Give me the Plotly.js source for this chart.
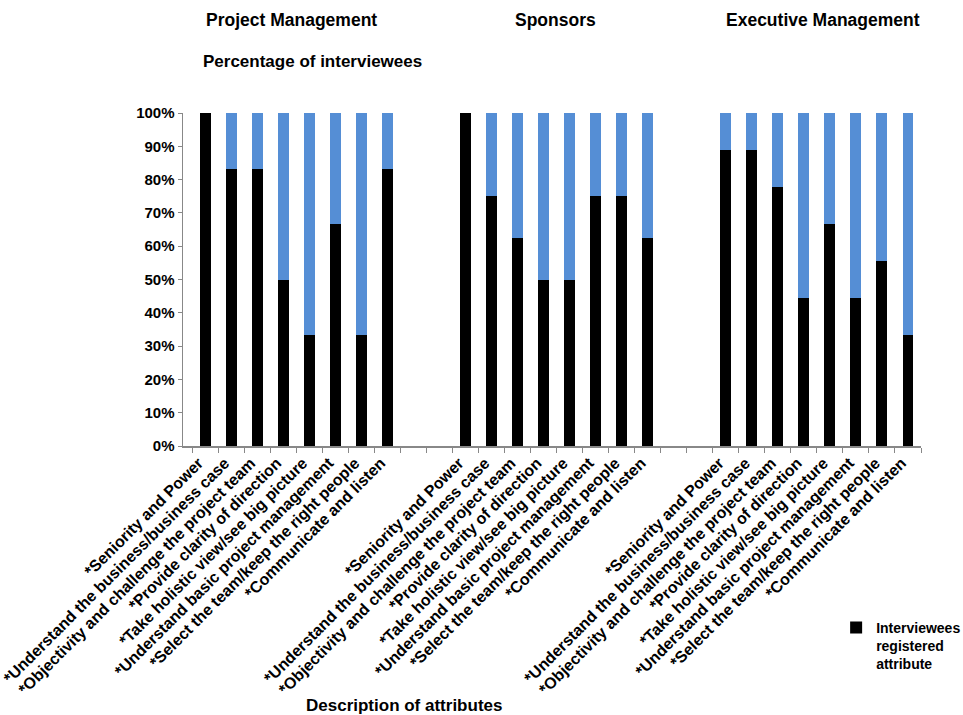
<!DOCTYPE html>
<html>
<head>
<meta charset="utf-8">
<script src="https://cdn.plot.ly/plotly-3.0.1.min.js"></script>
<style>html,body{margin:0;padding:0;background:#fff;}#chart{width:963px;height:715px;}</style>
</head>
<body>
<div id="chart"></div>
<script>
const groups = ["Project Management", "Sponsors", "Executive Management"];
const attributes = [
  "*Seniority and Power",
  "*Understand the business/business case",
  "*Objectivity and challenge the project team",
  "*Provide clarity of direction",
  "*Take holistic view/see big picture",
  "*Understand basic project management",
  "*Select the team/keep the right people",
  "*Communicate and listen"
];
const pmValues = [100, 83.3, 83.3, 50, 33.3, 66.7, 33.3, 83.3];
const sponsorValues = [100, 75, 62.5, 50, 50, 75, 75, 62.5];
const execValues = [88.9, 88.9, 77.8, 44.4, 66.7, 44.4, 55.6, 33.3];
const yTickValues = [0, 10, 20, 30, 40, 50, 60, 70, 80, 90, 100];
const yTickLabels = ["0%", "10%", "20%", "30%", "40%", "50%", "60%", "70%", "80%", "90%", "100%"];
const seriesName = "Interviewees<br>registered<br>attribute";

// Slot positions: 8 bars, 2 empty slots, 8 bars, 2 empty, 8 bars
const groupValues = [pmValues, sponsorValues, execValues];
const labelShift = 0.25; // rotated labels end just under the bar
const xs = [], ys = [], rest = [], tickvals = [], ticktext = [];
groupValues.forEach((vals, g) => {
  vals.forEach((v, i) => {
    const x = g * 10 + i;
    xs.push(x); ys.push(v); rest.push(100 - v);
    tickvals.push(x - labelShift); ticktext.push(attributes[i]);
  });
});

const traces = [
  {type: "bar", x: xs, y: ys, name: seriesName, marker: {color: "#000000"}, showlegend: true, hoverinfo: "y"},
  {type: "bar", x: xs, y: rest, name: "Not registered", marker: {color: "rgb(85,142,213)"}, showlegend: false, hoverinfo: "y"}
];

const fontFam = "Liberation Sans, Arial, sans-serif";
const layout = {
  width: 963, height: 715,
  margin: {l: 183, r: 42, t: 113, b: 269, autoexpand: false},
  barmode: "stack",
  bargap: 0.58,
  paper_bgcolor: "#fff", plot_bgcolor: "#fff",
  font: {family: fontFam, color: "#000", size: 14},
  showlegend: true,
  legend: {x: 0.885, y: -0.498, xanchor: "left", yanchor: "top",
           valign: "top", font: {size: 14, family: fontFam, weight: "bold"}, bgcolor: "rgba(0,0,0,0)"},
  xaxis: {
    range: [-0.85, 27.5], automargin: false,
    tickmode: "array", tickvals: tickvals, ticktext: ticktext,
    tickangle: -45, ticks: "", ticklen: 0, ticklabeloverflow: "allow",
    tickfont: {size: 16, family: fontFam, weight: "bold", color: "#000"},
    showline: true, linecolor: "#888", linewidth: 1.5,
    showgrid: false, zeroline: false, fixedrange: true,
    minor: {tickmode: "linear", tick0: 0.5, dtick: 1, ticks: "outside", ticklen: 5, tickcolor: "#888", showgrid: false}
  },
  yaxis: {
    range: [0, 100], automargin: false,
    tickmode: "array", tickvals: yTickValues, ticktext: yTickLabels,
    ticks: "outside", ticklen: 4, tickcolor: "#888",
    tickfont: {size: 15, family: fontFam, weight: "bold", color: "#000"},
    showline: true, linecolor: "#888", linewidth: 1.5,
    showgrid: false, zeroline: false, fixedrange: true
  },
  annotations: [
    {text: "<b>" + groups[0] + "</b>", x: 3.3, xref: "x", xanchor: "center", y: 1.279, yref: "paper", showarrow: false, font: {size: 17.5}, yanchor: "middle"},
    {text: "<b>" + groups[1] + "</b>", x: 13.45, xref: "x", xanchor: "center", y: 1.279, yref: "paper", showarrow: false, font: {size: 17.5}, yanchor: "middle"},
    {text: "<b>" + groups[2] + "</b>", x: 23.75, xref: "x", xanchor: "center", y: 1.279, yref: "paper", showarrow: false, font: {size: 17.5}, yanchor: "middle"},
    {text: "<b>Percentage of interviewees</b>", x: 0.175, xref: "paper", xanchor: "center", y: 1.156, yref: "paper", showarrow: false, font: {size: 17}, yanchor: "middle"},
    {text: "<b>Description of attributes</b>", x: 0.30, xref: "paper", xanchor: "center", y: -0.778, yref: "paper", showarrow: false, font: {size: 17}, yanchor: "middle"}
  ]
};

Plotly.newPlot("chart", traces, layout, {displayModeBar: false, staticPlot: true});
</script>
</body>
</html>
